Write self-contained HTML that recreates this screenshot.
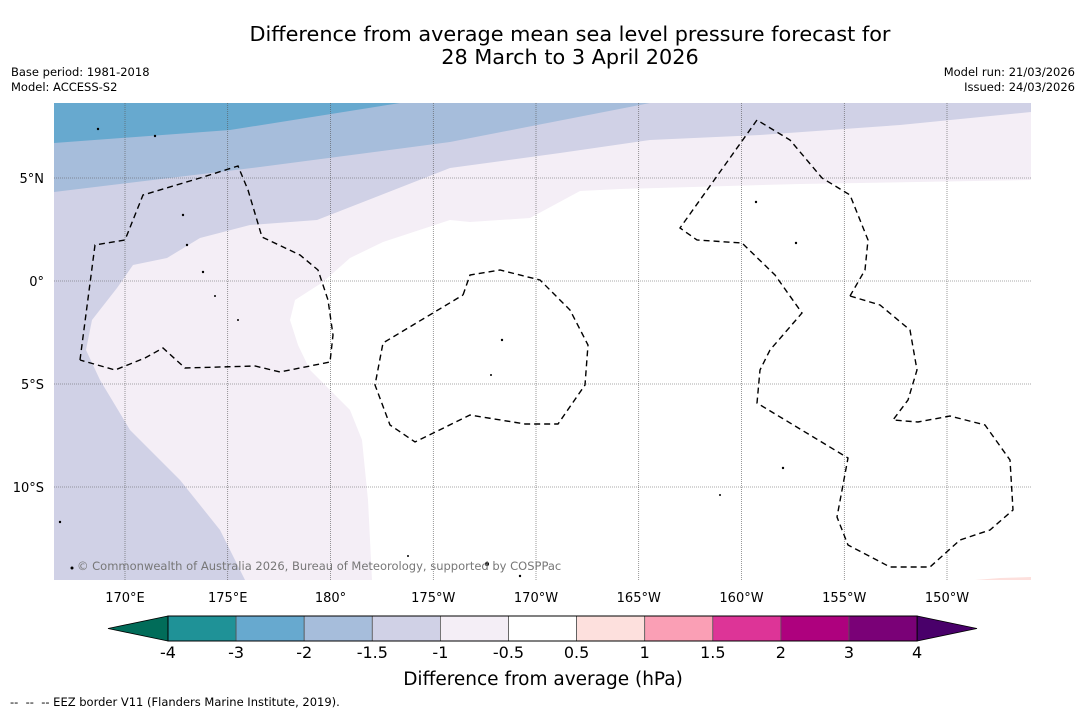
<!DOCTYPE html>
<html><head><meta charset="utf-8"><style>
body{margin:0;background:#fff;width:1085px;height:713px;overflow:hidden;font-family:"DejaVu Sans","Liberation Sans",sans-serif}
</style></head><body>
<svg id="s" width="1085" height="713" xmlns="http://www.w3.org/2000/svg">
<text x="570" y="41" font-size="20.8" text-anchor="middle">Difference from average mean sea level pressure forecast for</text>
<text x="570" y="64" font-size="20.8" text-anchor="middle">28 March to 3 April 2026</text>
<text x="11" y="76" font-size="11.5">Base period: 1981-2018</text>
<text x="11" y="91" font-size="11.5">Model: ACCESS-S2</text>
<text x="1075" y="76" font-size="11.5" text-anchor="end">Model run: 21/03/2026</text>
<text x="1075" y="91" font-size="11.5" text-anchor="end">Issued: 24/03/2026</text>
<defs><clipPath id="mc"><rect x="54" y="103" width="977" height="477"/></clipPath></defs>
<g id="map" clip-path="url(#mc)">
<rect x="54" y="103" width="977" height="477" fill="#fff"/>
<polygon fill="#f4eef6" points="54,103 1031,103 1031,180 800,184 620,189 580,191 530,218 470,222 450,220 383,242 350,258 323,282 295,300 290,320 298,345 310,370 350,410 362,440 368,500 372,580 54,580"/>
<polygon fill="#d0d1e6" points="54,103 1031,103 1031,112 900,125 760,135 650,140 560,153 450,168 317,220 250,225 200,238 167,258 133,265 117,288 92,320 86,350 100,380 130,430 180,480 220,530 245,580 54,580"/>
<polygon fill="#a6bddb" points="54,103 650,103 450,142 260,167 54,192"/>
<polygon fill="#67a9cf" points="54,103 400,103 230,130 54,143"/>
<polygon fill="#fde0dd" points="975,580 1000,578 1031,577 1031,580"/>
<g id="grid"></g>
<g fill="none" stroke="#000" stroke-width="1.4" stroke-dasharray="6,4">
<polyline points="80,360 95,245 125,240 143,195 200,178 238,166 248,190 262,237 300,255 318,270 328,300 333,335 330,362 280,372 255,366 185,368 163,348 145,358 115,370 80,360"/>
<polyline points="463,295 470,275 500,270 540,280 570,310 588,345 585,385 558,424 525,424 470,415 415,442 390,425 375,385 383,343 463,295"/>
<polyline points="850,296 880,305 910,330 917,370 908,400 893,420 918,422 950,416 985,425 1010,460 1013,510 990,530 960,540 930,567 890,567 848,545 837,517 848,458 757,403 760,370 770,350 802,313 775,275 742,243 697,240 680,228 757,120 790,140 822,178 850,195 868,240 865,270 850,296"/>
</g>
<g fill="#000">
<circle cx="98" cy="129" r="1.2"/><circle cx="155" cy="136" r="1.2"/><circle cx="183" cy="215" r="1.2"/><circle cx="187" cy="245" r="1.2"/><circle cx="203" cy="272" r="1.2"/><circle cx="215" cy="296" r="1"/><circle cx="238" cy="320" r="1"/><circle cx="502" cy="340" r="1.2"/><circle cx="491" cy="375" r="1"/><circle cx="756" cy="202" r="1.2"/><circle cx="796" cy="243" r="1.2"/><circle cx="783" cy="468" r="1.2"/><circle cx="720" cy="495" r="1"/><circle cx="60" cy="522" r="1.2"/><circle cx="72" cy="568" r="1.5"/><circle cx="487" cy="564" r="2"/><circle cx="520" cy="576" r="1.2"/><circle cx="408" cy="556" r="1"/>
</g>
<text x="77" y="570" font-size="11.5" fill="#777">© Commonwealth of Australia 2026, Bureau of Meteorology, supported by COSPPac</text>
</g>
<g id="axes" font-size="13"></g>
<g id="cbar"></g>
<text x="543" y="685" font-size="18.5" text-anchor="middle">Difference from average (hPa)</text>
<text x="10" y="706" font-size="11.5">-- &nbsp;-- &nbsp;-- EEZ border V11 (Flanders Marine Institute, 2019).</text>
</svg>
<script>
const lonLabels=["170°E","175°E","180°","175°W","170°W","165°W","160°W","155°W","150°W"];
const lonVals=[170,175,180,185,190,195,200,205,210];
const latLabels=["5°N","0°","5°S","10°S"];
const latVals=[5,0,-5,-10];
const levels=[-4,-3,-2,-1.5,-1,-0.5,0.5,1,1.5,2,3,4];
const levelLabels=["-4","-3","-2","-1.5","-1","-0.5","0.5","1","1.5","2","3","4"];
const binColors=["#1f9297","#67a9cf","#a6bddb","#d0d1e6","#f4eef6","#ffffff","#fde0dd","#fa9fb5","#dd3497","#ae017e","#7a0177"];
const NS="http://www.w3.org/2000/svg";
const xLon=v=>125+(v-170)*20.55;
const yLat=v=>281-v*20.6;
function mk(t,a,p){const e=document.createElementNS(NS,t);for(const k in a)e.setAttribute(k,a[k]);p.appendChild(e);return e;}
const grid=document.getElementById('grid'),axes=document.getElementById('axes'),cb=document.getElementById('cbar');
lonVals.forEach((v,i)=>{const x=xLon(v);
 const l=mk('line',{x1:x,x2:x,y1:103,y2:580,stroke:'#555','stroke-width':0.6,'stroke-dasharray':'1,1'},grid);
 
 
 const t=mk('text',{x:x,y:602,'text-anchor':'middle'},axes);t.textContent=lonLabels[i];
 
 });
latVals.forEach((v,i)=>{const y=yLat(v);
 const l=mk('line',{x1:54,x2:1031,y1:y,y2:y,stroke:'#555','stroke-width':0.6,'stroke-dasharray':'1,1'},grid);
 
 
 const t=mk('text',{x:44,y:y+5,'text-anchor':'end'},axes);t.textContent=latLabels[i];
 
 });
const cx=i=>168+i*68.1;
const y0=616,y1=641;
const la=mk('polygon',{points:`108,${(y0+y1)/2} ${cx(0)},${y0} ${cx(0)},${y1}`,fill:'#016c59',stroke:'#000','stroke-width':0.8},cb);


const ra=mk('polygon',{points:`977,${(y0+y1)/2} ${cx(11)},${y0} ${cx(11)},${y1}`,fill:'#49006a',stroke:'#000','stroke-width':0.8},cb);


binColors.forEach((c,i)=>{const r=mk('rect',{x:cx(i),y:y0,width:cx(i+1)-cx(i),height:y1-y0,fill:c,stroke:'#555','stroke-width':0.8},cb);
 
 });
mk('rect',{x:cx(0),y:y0,width:cx(11)-cx(0),height:y1-y0,fill:'none',stroke:'#000','stroke-width':1},cb);
levels.forEach((v,i)=>{const t=mk('text',{x:cx(i),y:658,'text-anchor':'middle','font-size':16},cb);t.textContent=levelLabels[i];
 
 });
</script>
</body></html>
